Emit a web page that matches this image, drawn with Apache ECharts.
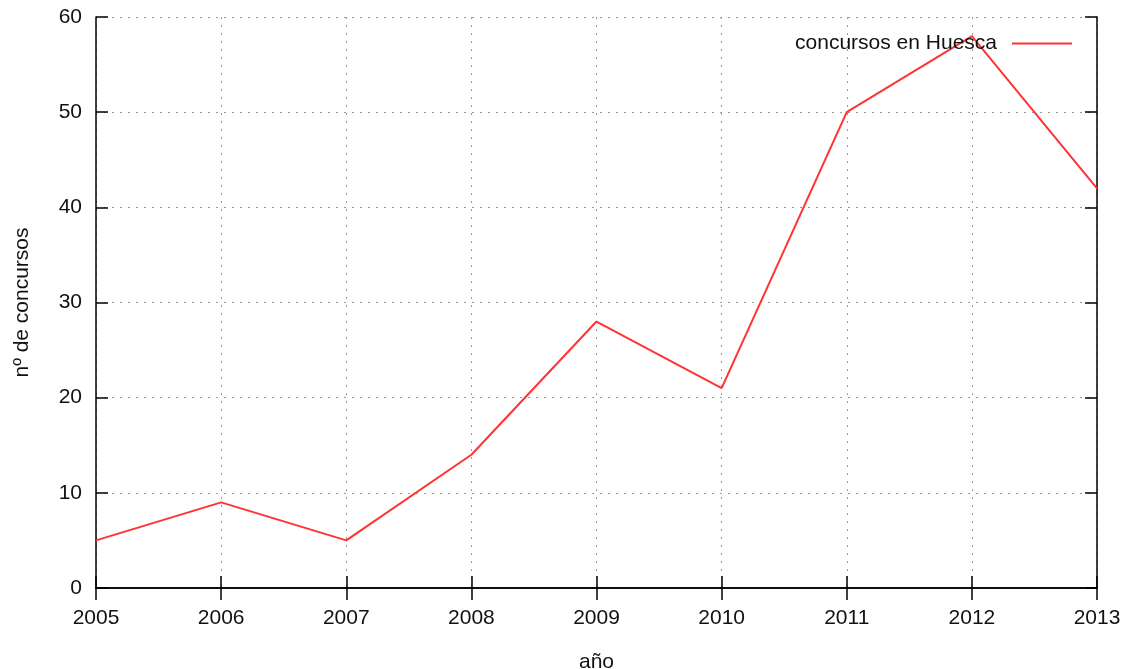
<!DOCTYPE html>
<html><head><meta charset="utf-8">
<script src="https://cdn.jsdelivr.net/npm/echarts@6/dist/echarts.min.js"></script>
<style>html,body{margin:0;padding:0;background:#fff}#c{width:1128px;height:669px}</style>
</head><body><div id="c"></div>
<script>
const years = ['2005','2006','2007','2008','2009','2010','2011','2012','2013'];
const concursos = [5, 9, 5, 14, 28, 21, 50, 58, 42];
const seriesName = 'concursos en Huesca';
const xName = 'año';
const yName = 'nº de concursos';

const font = 'Liberation Sans';
const chart = echarts.init(document.getElementById('c'), null, {renderer:'canvas'});
const gridLine = {show:true, lineStyle:{color:'#9a9a9a', type:[2,6], width:1}};
chart.setOption({
  animation:false,
  backgroundColor:'#ffffff',
  textStyle:{fontFamily:font},
  grid:{left:96, right:31, top:17, bottom:81, show:false, containLabel:false, outerBoundsMode:'none'},
  legend:{
    data:[{name:seriesName, icon:'rect'}],
    right:51, top:28, align:'right', itemWidth:60, itemHeight:2, itemGap:15,
    textStyle:{fontFamily:font, fontSize:21, color:'#111', padding:[0,10,0,0]},
    selectedMode:false
  },
  xAxis:[{
    type:'category', data:years, boundaryGap:false,
    name:xName, nameLocation:'middle', nameGap:64,
    nameTextStyle:{fontFamily:font, fontSize:21, color:'#111'},
    axisLine:{lineStyle:{color:'#000', width:1.5}},
    axisTick:{inside:true, length:12, lineStyle:{color:'#000', width:1.5}},
    axisLabel:{fontFamily:font, fontSize:21, color:'#111', margin:20},
    splitLine:gridLine
  },{
    type:'category', data:years, boundaryGap:false, position:'top',
    axisLine:{lineStyle:{color:'#000', width:1.5}},
    axisTick:{inside:true, length:12, lineStyle:{color:'#000', width:1.5}},
    axisLabel:{show:false}, splitLine:{show:false}
  }],
  yAxis:[{
    type:'value', min:0, max:60, interval:10,
    name:yName, nameLocation:'middle', nameGap:63, nameRotate:90,
    nameTextStyle:{fontFamily:font, fontSize:21, color:'#111'},
    axisLine:{show:true, lineStyle:{color:'#000', width:1.5}},
    axisTick:{show:true, inside:true, length:12, lineStyle:{color:'#000', width:1.5}},
    axisLabel:{fontFamily:font, fontSize:21, color:'#111', margin:14},
    splitLine:gridLine
  },{
    type:'value', min:0, max:60, interval:10, position:'right',
    axisLine:{show:true, lineStyle:{color:'#000', width:1.5}},
    axisTick:{show:true, inside:true, length:12, lineStyle:{color:'#000', width:1.5}},
    axisLabel:{show:false}, splitLine:{show:false}
  }],
  series:[{
    name:seriesName, type:'line', data:concursos,
    xAxisIndex:0, yAxisIndex:0,
    symbol:'none', lineStyle:{color:'#ff3333', width:2},
    itemStyle:{color:'#ff3333'}
  }]
});
</script></body></html>
